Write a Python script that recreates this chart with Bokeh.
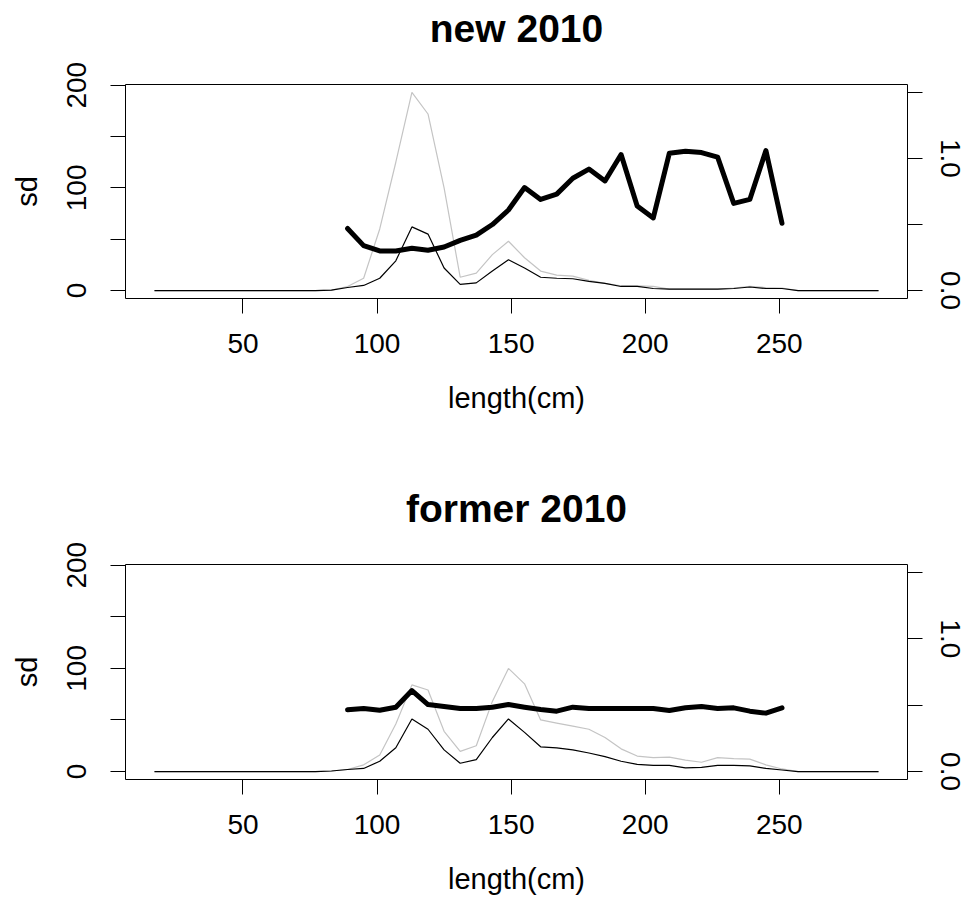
from bokeh.plotting import figure
from bokeh.models import Range1d, LinearAxis, FixedTicker, CustomJSTickFormatter
from bokeh.layouts import column
from bokeh.embed import file_html
from bokeh.resources import INLINE

# ---------------- data ----------------
length_cm = [17, 23, 29, 35, 41, 47, 53, 59, 65, 71, 77, 83, 89, 95, 101, 107, 113, 119,
             125, 131, 137, 143, 149, 155, 161, 167, 173, 179, 185, 191, 197, 203, 209,
             215, 221, 227, 233, 239, 245, 251, 257, 263, 269, 275, 281, 287]

new_gray = [0, 0, 0, 0, 0, 0, 0, 0, 0, 0, 0, 0.5, 4, 12, 60, 125, 193, 172, 100, 13, 17,
            35, 48, 32, 19, 15, 14, 10, 7, 4.5, 4.5, 4, 1.5, 1.5, 1.5, 1.5, 2.5, 4, 3,
            2.5, 0, 0, 0, 0, 0, 0]
new_black = [0, 0, 0, 0, 0, 0, 0, 0, 0, 0, 0, 0.5, 3, 5, 12, 29, 62, 55, 22, 6, 7.5,
             19, 30, 22, 13, 12, 11.5, 9, 7, 4, 4, 2, 1.5, 1.5, 1.5, 1.5, 2, 3.5, 2,
             2, 0, 0, 0, 0, 0, 0]

cv_length = [89, 95, 101, 107, 113, 119, 125, 131, 137, 143, 149, 155, 161, 167, 173,
             179, 185, 191, 197, 203, 209, 215, 221, 227, 233, 239, 245, 251]
new_cv = [0.47, 0.34, 0.30, 0.30, 0.32, 0.305, 0.33, 0.38, 0.42, 0.50, 0.61, 0.78, 0.69,
          0.73, 0.85, 0.92, 0.83, 1.03, 0.64, 0.55, 1.04, 1.055, 1.045, 1.01, 0.66, 0.69,
          1.06, 0.51]

former_gray = [0, 0, 0, 0, 0, 0, 0, 0, 0, 0, 0, 0.5, 2, 6.5, 16, 46, 84, 79, 39, 19.5, 25,
               68, 100, 85, 50, 47, 44, 41, 33, 22, 15, 13.5, 14, 11, 9, 13.5, 12.5, 12,
               6.5, 2.5, 0, 0, 0, 0, 0, 0]
former_black = [0, 0, 0, 0, 0, 0, 0, 0, 0, 0, 0, 0.5, 2, 3, 10, 23, 51, 41, 21, 8, 11.5,
                33, 51, 38, 24, 23, 21, 18, 14.5, 10, 7, 6, 6, 3.5, 4, 6, 6, 5.5, 3,
                1.5, 0, 0, 0, 0, 0, 0]
former_cv = [0.465, 0.475, 0.462, 0.485, 0.61, 0.505, 0.49, 0.475, 0.475, 0.485, 0.505,
             0.485, 0.467, 0.455, 0.485, 0.475, 0.475, 0.475, 0.475, 0.475, 0.46, 0.48,
             0.49, 0.475, 0.48, 0.455, 0.44, 0.48]

titles = ["new 2010", "former 2010"]
x_ticks = [50, 100, 150, 200, 250]
y_ticks = [0, 50, 100, 150, 200]
cv_ticks = [0, 0.5, 1.0, 1.5]

FONT = "Liberation Sans"
TICK_SIZE = "28px"
LABEL_SIZE = "29px"

X0, X1 = 6.2, 297.8
Y0, Y1 = -7.72, 200.72


def style_axis(ax):
    ax.axis_line_color = None
    ax.major_tick_out = 15
    ax.major_tick_in = 0
    ax.minor_tick_line_color = None
    ax.major_tick_line_color = "black"
    ax.major_label_text_font = FONT
    ax.major_label_text_font_size = TICK_SIZE
    ax.major_label_text_color = "black"
    ax.axis_label_text_font = FONT
    ax.axis_label_text_font_size = LABEL_SIZE
    ax.axis_label_text_font_style = "normal"
    ax.axis_label_text_color = "black"


def panel(title, gray, black, cv, frame_h, border_bottom):
    p = figure(frame_width=782, frame_height=frame_h, output_backend="svg",
               toolbar_location=None, x_range=Range1d(X0, X1),
               y_range=Range1d(Y0, Y1),
               min_border_left=125, min_border_right=62, min_border_top=84,
               min_border_bottom=border_bottom, background_fill_color="white",
               border_fill_color="white")
    p.extra_y_ranges = {"cv": Range1d(-0.06, 1.56)}
    p.outline_line_color = "black"
    p.outline_line_width = 1
    p.xgrid.visible = False
    p.ygrid.visible = False

    xa = p.below[0]
    style_axis(xa)
    xa.ticker = FixedTicker(ticks=x_ticks)
    xa.axis_label = "length(cm)"
    xa.major_label_standoff = 20
    xa.axis_label_standoff = 26

    ya = p.left[0]
    style_axis(ya)
    ya.ticker = FixedTicker(ticks=y_ticks)
    ya.formatter = CustomJSTickFormatter(
        code="return (tick % 100 == 0) ? tick.toFixed(0) : '';")
    ya.major_label_orientation = "vertical"
    ya.axis_label = "sd"
    ya.major_label_standoff = 24
    ya.axis_label_standoff = 22

    r = LinearAxis(y_range_name="cv", ticker=FixedTicker(ticks=cv_ticks))
    style_axis(r)
    r.formatter = CustomJSTickFormatter(
        code="return (Math.abs(tick) < 1e-9) ? '0.0' : (Math.abs(tick - 1) < 1e-9 ? '1.0' : '');")
    r.major_label_orientation = "vertical"
    r.major_label_standoff = 18
    p.add_layout(r, "right")

    # title: an empty axis above the frame, carrying the title as its label
    t = LinearAxis(ticker=FixedTicker(ticks=[]), axis_label=title)
    t.axis_line_color = None
    t.major_tick_line_color = None
    t.minor_tick_line_color = None
    t.major_label_text_font_size = "0px"
    t.major_tick_out = 0
    t.major_tick_in = 0
    t.major_label_standoff = 0
    t.axis_label_standoff = 35
    t.axis_label_text_font = FONT
    t.axis_label_text_font_size = "39px"
    t.axis_label_text_font_style = "bold"
    t.axis_label_text_color = "black"
    p.add_layout(t, "above")

    p.line(length_cm, gray, line_color="#c4c4c4", line_width=1.2)
    p.line(length_cm, black, line_color="black", line_width=1.2)
    p.line(cv_length, cv, y_range_name="cv", line_color="black", line_width=5,
           line_join="round", line_cap="round")
    return p


p1 = panel(titles[0], new_gray, new_black, new_cv, 214, 182)
p2 = panel(titles[1], former_gray, former_black, former_cv, 215, 117)
layout = column(p1, p2, spacing=0)

open("out.html", "w").write(file_html(layout, INLINE))
